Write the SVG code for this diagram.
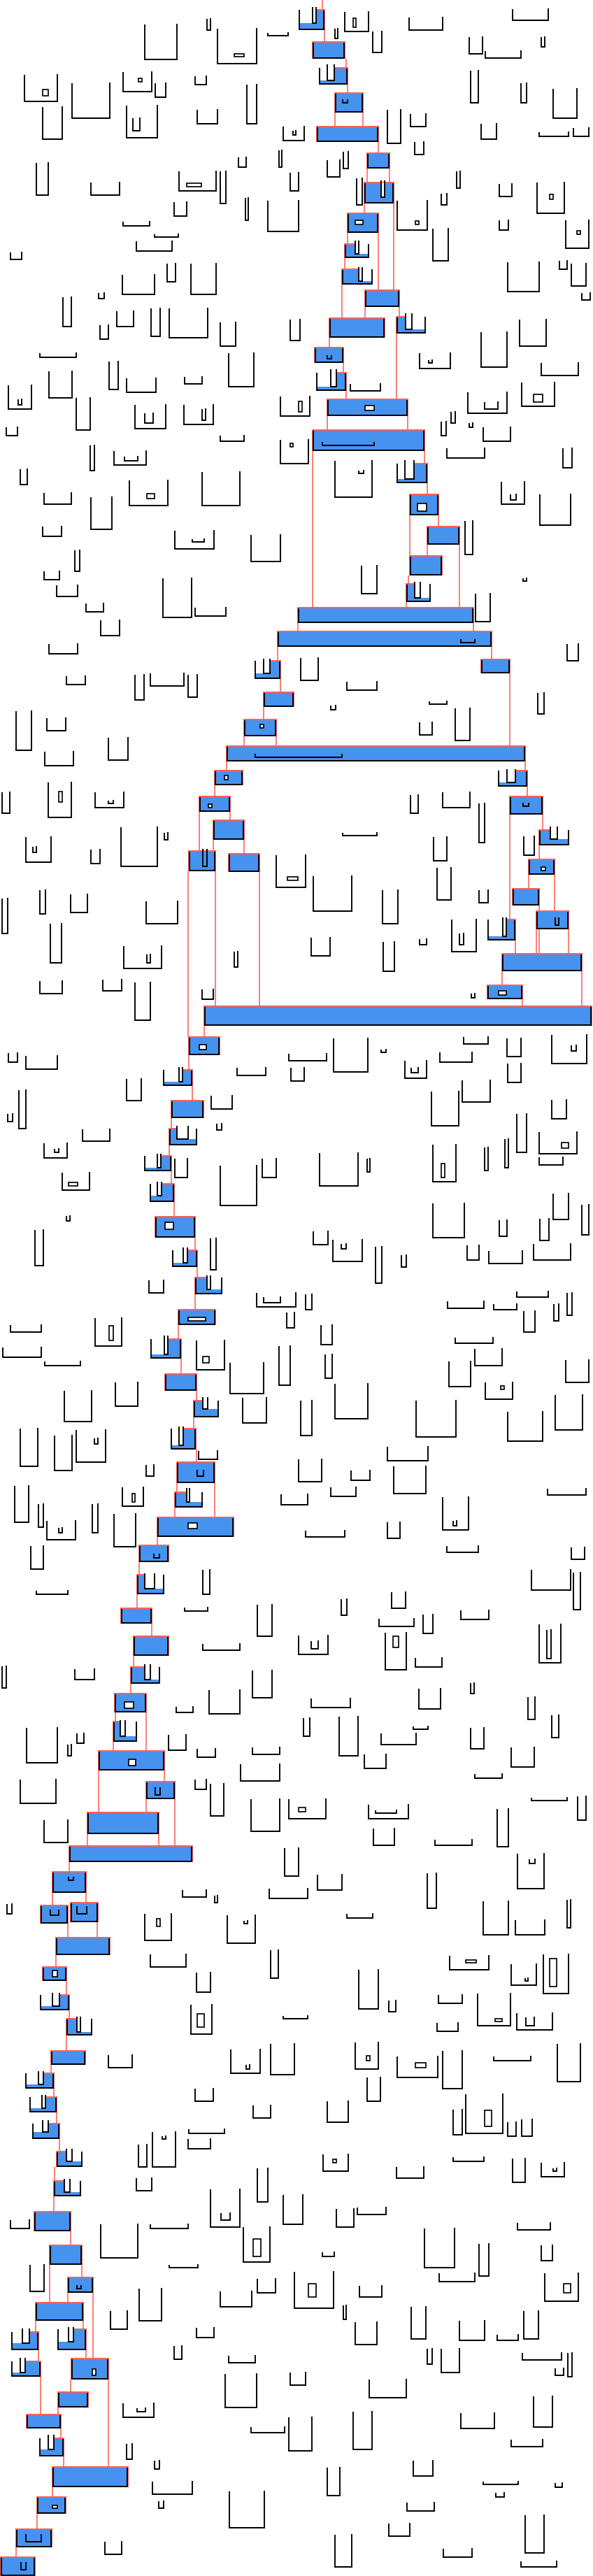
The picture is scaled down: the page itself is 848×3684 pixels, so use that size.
<svg xmlns="http://www.w3.org/2000/svg" width="848" height="3684" viewBox="0 0 848 3684">
<style>
.u path{fill:none;stroke:#000;stroke-width:1.9}
.w{fill:#fff;stroke:#000;stroke-width:1.7}
.b{fill:#4592EF}
.r{fill:none;stroke:#F8635A;stroke-width:2}
.k{fill:none;stroke:#000;stroke-width:1.9}
#connectors path{fill:none;stroke:#F8635A;stroke-width:1.6}
</style>
<rect width="848" height="3684" fill="#fff"/>
<g id="outlines" class="u">
<path d="M296 27V43H301V26"/><path d="M207 35V85H253V34"/><path d="M311 41V91H367V40"/><rect class="w" x="335" y="77" width="14" height="4"/><path d="M383 47V51H412V46"/><path d="M493 17V45H527V16"/><rect class="w" x="505" y="26" width="4" height="13"/><path d="M585 25V43H633V24"/><path d="M733 13V29H784V12"/><path d="M479 41V55H483V40"/><path d="M533 45V75H546V44"/><path d="M671 53V77H690V52"/><path d="M694 73V83H745V72"/><path d="M774 53V67H779V52"/><path d="M35 107V145H82V106"/><rect class="w" x="61" y="128" width="8" height="9"/><path d="M103 119V169H157V118"/><path d="M176 103V131H217V102"/><rect class="w" x="198" y="112" width="5" height="5"/><path d="M222 119V139H237V118"/><path d="M279 109V121H295V108"/><path d="M353 121V177H367V120"/><path d="M61 153V199H89V152"/><path d="M181 151V197H225V150"/><path d="M190 169V187H200V168"/><path d="M282 157V177H311V156"/><path d="M405 181V201H435V180"/><path d="M419 187V193H423V186"/><path d="M554 157V205H573V156"/><path d="M587 163V181H609V162"/><path d="M673 101V147H684V100"/><path d="M745 119V147H753V118"/><path d="M791 127V169H825V126"/><path d="M688 177V199H710V176"/><path d="M771 189V195H813V188"/><path d="M820 183V195H842V182"/><path d="M593 203V221H606V202"/><path d="M341 225V239H352V224"/><path d="M399 215V239H403V214"/><path d="M468 229V253H486V228"/><path d="M491 217V241H498V216"/><path d="M52 233V279H69V232"/><path d="M130 261V279H171V260"/><path d="M256 245V273H309V244"/><rect class="w" x="267" y="262" width="21" height="5"/><path d="M315 245V291H323V244"/><path d="M415 247V273H427V246"/><path d="M510 255V293H518V254"/><path d="M631 277V293H639V276"/><path d="M653 245V269H658V244"/><path d="M714 263V281H732V262"/><path d="M768 261V305H807V260"/><rect class="w" x="786" y="278" width="5" height="7"/><path d="M249 289V309H267V288"/><path d="M351 283V315H355V282"/><path d="M383 287V331H427V286"/><path d="M568 287V329H611V286"/><rect class="w" x="594" y="316" width="5" height="5"/>
<path d="M176 317V323H214V316"/><path d="M221 335V339H255V334"/><path d="M195 345V359H246V344"/><path d="M15 361V371H31V360"/><path d="M714 315V329H727V314"/><path d="M809 315V355H842V314"/><rect class="w" x="825" y="330" width="5" height="5"/><path d="M619 327V373H641V326"/><path d="M726 375V417H771V374"/><path d="M800 373V385H811V372"/><path d="M817 377V409H838V376"/><path d="M832 419V429H844V418"/><path d="M141 419V427H149V418"/><path d="M175 393V421H221V392"/><path d="M239 377V403H251V376"/><path d="M273 377V421H309V376"/><path d="M90 425V467H102V424"/><path d="M143 465V485H155V464"/><path d="M167 445V467H191V444"/><path d="M216 441V481H229V440"/><path d="M242 441V483H297V440"/><path d="M315 461V495H337V460"/><path d="M415 457V487H429V456"/><path d="M743 457V495H781V456"/><path d="M688 475V525H725V474"/><path d="M600 505V527H644V504"/><path d="M613 515V519H618V514"/><path d="M774 519V537H827V518"/><path d="M57 505V511H109V504"/><path d="M156 517V557H169V516"/><path d="M70 531V569H103V530"/><path d="M181 541V561H223V540"/><path d="M264 539V549H289V538"/><path d="M327 505V553H363V504"/><path d="M501 549V559H544V548"/><path d="M12 551V585H45V550"/><path d="M26 571V579H31V570"/><path d="M401 567V595H443V566"/><rect class="w" x="427" y="574" width="5" height="15"/><path d="M669 561V591H725V560"/><path d="M693 575V585H712V574"/><path d="M746 547V581H793V546"/><rect class="w" x="763" y="564" width="13" height="11"/><path d="M109 569V615H129V568"/><path d="M193 579V613H237V578"/><path d="M207 591V605H219V590"/><path d="M263 579V607H305V578"/><path d="M289 585V601H294V584"/><path d="M645 589V605H651V588"/>
<path d="M631 603V623H638V602"/><path d="M671 605V611H676V604"/><path d="M691 611V631H730V610"/><path d="M9 611V623H25V610"/><path d="M315 623V631H349V622"/><path d="M401 629V663H441V628"/><rect class="w" x="415" y="634" width="4" height="5"/><path d="M129 637V673H135V636"/><path d="M163 645V665H209V644"/><path d="M178 653V659H197V652"/><path d="M29 671V693H39V670"/><path d="M479 659V711H532V658"/><path d="M513 673V677H520V672"/><path d="M639 641V655H693V640"/><path d="M805 641V669H818V640"/><path d="M717 689V721H750V688"/><path d="M730 707V715H738V706"/><path d="M772 707V751H816V706"/><path d="M63 705V721H102V704"/><path d="M130 711V757H160V710"/><path d="M185 687V723H240V686"/><rect class="w" x="210" y="706" width="11" height="7"/><path d="M289 675V723H343V674"/><path d="M61 753V767H88V752"/><path d="M250 759V785H306V758"/><path d="M275 771V775H292V770"/><path d="M359 765V803H401V764"/><path d="M665 745V793H676V744"/><path d="M107 787V817H114V786"/><path d="M63 817V829H85V816"/><path d="M81 837V853H111V836"/><path d="M123 863V875H148V862"/><path d="M233 827V883H274V826"/><path d="M279 869V881H323V868"/><path d="M517 809V849H539V808"/><path d="M748 827V831H753V826"/><path d="M680 849V889H701V848"/><path d="M144 887V909H171V886"/>
<path d="M70 921V935H111V920"/><path d="M811 921V945H827V920"/><path d="M430 941V973H455V940"/><path d="M95 967V979H122V966"/><path d="M193 965V1001H206V964"/><path d="M215 963V981H263V962"/><path d="M269 965V997H282V964"/><path d="M496 975V987H539V974"/><path d="M473 1009V1015H480V1008"/><path d="M614 1003V1007H639V1002"/><path d="M769 991V1021H778V990"/><path d="M23 1017V1073H45V1016"/><path d="M67 1027V1045H94V1026"/><path d="M600 1033V1051H618V1032"/><path d="M651 1013V1059H672V1012"/><path d="M155 1055V1087H183V1054"/><path d="M64 1075V1095H105V1074"/><path d="M3 1133V1163H14V1132"/><path d="M69 1119V1169H102V1118"/><rect class="w" x="84" y="1132" width="5" height="15"/><path d="M136 1133V1155H177V1132"/><path d="M155 1145V1149H162V1144"/><path d="M587 1137V1163H598V1136"/><path d="M633 1133V1155H672V1132"/><path d="M685 1149V1205H693V1148"/><path d="M620 1197V1231H639V1196"/><path d="M749 1196V1223H764V1195"/><path d="M490 1191V1195H539V1190"/><path d="M173 1183V1239H225V1182"/><path d="M235 1191V1201H240V1190"/><path d="M37 1197V1233H73V1196"/><path d="M47 1211V1219H52V1210"/>
<path d="M130 1215V1235H143V1214"/><path d="M395 1223V1269H437V1222"/><rect class="w" x="411" y="1254" width="15" height="5"/><path d="M448 1253V1303H503V1252"/><path d="M547 1273V1321H569V1272"/><path d="M625 1241V1287H645V1240"/><path d="M685 1273V1291H698V1272"/><path d="M3 1285V1335H11V1284"/><path d="M57 1273V1307H65V1272"/><path d="M101 1279V1305H125V1278"/><path d="M209 1289V1321H254V1288"/><path d="M72 1321V1377H88V1320"/><path d="M177 1353V1385H231V1352"/><path d="M210 1365V1377H215V1364"/><path d="M57 1403V1421H89V1402"/><path d="M147 1401V1417H174V1400"/><path d="M193 1405V1459H215V1404"/><path d="M289 1415V1429H305V1414"/><path d="M335 1361V1383H340V1360"/><path d="M445 1341V1367H472V1340"/><path d="M548 1347V1389H564V1346"/><path d="M600 1343V1351H610V1342"/><path d="M646 1315V1361H681V1314"/><path d="M657 1335V1351H663V1334"/><path d="M674 1421V1427H679V1420"/><path d="M663 1483V1493H698V1482"/><path d="M545 1501V1505H552V1500"/><path d="M817 1495V1503H824V1494"/>
<path d="M12 1506V1519H25V1505"/><path d="M37 1510V1529H82V1509"/><path d="M413 1507V1517H467V1506"/><path d="M477 1485V1533H526V1484"/><path d="M579 1517V1542H610V1516"/><path d="M588 1527V1534H598V1526"/><path d="M629 1505V1519H675V1504"/><path d="M725 1485V1511H745V1484"/><path d="M789 1480V1521H839V1479"/><path d="M339 1527V1538H380V1526"/><path d="M416 1527V1546H435V1526"/><path d="M726 1521V1548H745V1520"/><path d="M181 1543V1574H202V1542"/><path d="M27 1559V1614H37V1558"/><path d="M11 1593V1604H18V1592"/><path d="M302 1567V1586H332V1566"/><path d="M617 1561V1610H656V1560"/><path d="M661 1545V1576H701V1544"/><path d="M789 1573V1600H810V1572"/><path d="M310 1607V1616H317V1606"/><path d="M118 1615V1632H157V1614"/><path d="M63 1635V1656H96V1634"/><path d="M78 1643V1648H84V1642"/><path d="M739 1593V1648H753V1592"/><path d="M771 1619V1650H825V1618"/><rect class="w" x="803" y="1634" width="10" height="8"/><path d="M771 1655V1666H805V1654"/><path d="M250 1657V1684H268V1656"/><path d="M315 1667V1724H367V1666"/><path d="M375 1657V1684H395V1656"/><path d="M457 1649V1696H512V1648"/><path d="M525 1657V1676H529V1656"/><path d="M619 1637V1690H652V1636"/><rect class="w" x="631" y="1664" width="5" height="20"/><path d="M693 1641V1674H698V1640"/><path d="M722 1629V1670H727V1628"/><path d="M89 1677V1702H128V1676"/><rect class="w" x="98" y="1691" width="13" height="5"/><path d="M95 1739V1746H100V1738"/><path d="M50 1759V1810H62V1758"/><path d="M619 1721V1770H664V1720"/><path d="M791 1707V1744H813V1706"/><path d="M832 1723V1766H842V1722"/><path d="M714 1745V1768H725V1744"/><path d="M772 1743V1774H785V1742"/><path d="M448 1761V1780H469V1760"/><path d="M476 1773V1804H518V1772"/><path d="M488 1779V1786H495V1778"/><path d="M537 1783V1835H546V1782"/><path d="M574 1795V1812H581V1794"/><path d="M301 1771V1816H309V1770"/><path d="M668 1781V1802H685V1780"/><path d="M699 1789V1807H747V1788"/><path d="M763 1779V1802H816V1778"/>
<path d="M213 1831V1849H234V1830"/><path d="M367 1849V1869H423V1848"/><path d="M377 1855V1863H401V1854"/><path d="M437 1851V1873H446V1850"/><path d="M640 1861V1871H692V1860"/><path d="M706 1865V1873H739V1864"/><path d="M739 1847V1855H784V1846"/><path d="M792 1865V1889H799V1864"/><path d="M811 1849V1881H818V1848"/><path d="M749 1875V1905H765V1874"/><path d="M410 1877V1899H421V1876"/><path d="M459 1895V1923H475V1894"/><path d="M15 1895V1905H59V1894"/><path d="M136 1885V1925H174V1884"/><rect class="w" x="156" y="1896" width="6" height="21"/><path d="M4 1927V1941H59V1926"/><path d="M64 1947V1953H115V1946"/><path d="M281 1917V1959H321V1916"/><rect class="w" x="290" y="1940" width="9" height="9"/><path d="M329 1949V1993H377V1948"/><path d="M399 1925V1981H415V1924"/><path d="M465 1937V1971H475V1936"/><path d="M651 1913V1921H705V1912"/><path d="M679 1929V1953H718V1928"/><path d="M642 1947V1983H673V1946"/><path d="M809 1945V1977H842V1944"/><path d="M694 1977V2001H733V1976"/><rect class="w" x="716" y="1982" width="5" height="5"/><path d="M165 1977V2011H197V1976"/><path d="M92 1989V2033H131V1988"/><path d="M347 1999V2035H381V1998"/><path d="M430 2003V2053H446V2002"/><path d="M479 1979V2029H526V1978"/><path d="M595 2003V2055H652V2002"/><path d="M726 2019V2061H776V2018"/><path d="M794 1995V2045H833V1994"/><path d="M29 2043V2097H54V2042"/><path d="M78 2053V2103H103V2052"/><path d="M109 2045V2091H151V2044"/><path d="M135 2057V2065H140V2056"/><path d="M284 2075V2087H311V2074"/><path d="M554 2069V2089H612V2068"/><path d="M209 2095V2111H220V2094"/><path d="M427 2087V2119H460V2086"/><path d="M502 2103V2117H529V2102"/><path d="M21 2125V2177H41V2124"/><path d="M175 2127V2154H205V2126"/><rect class="w" x="189" y="2136" width="4" height="12"/><path d="M473 2127V2140H509V2126"/><path d="M563 2097V2136H609V2096"/>
<path d="M55 2151V2184H62V2150"/><path d="M67 2175V2202H108V2174"/><path d="M84 2185V2192H89V2184"/><path d="M132 2151V2192H140V2150"/><path d="M163 2165V2212H194V2164"/><path d="M44 2211V2244H62V2210"/><path d="M402 2137V2152H440V2136"/><path d="M783 2129V2138H838V2128"/><path d="M633 2141V2188H670V2140"/><path d="M648 2175V2182H653V2174"/><path d="M554 2177V2200H572V2176"/><path d="M437 2189V2198H493V2188"/><path d="M639 2211V2220H684V2210"/><path d="M817 2213V2230H836V2212"/><path d="M52 2275V2280H97V2274"/><path d="M290 2245V2280H300V2244"/><path d="M264 2299V2304H297V2298"/><path d="M368 2295V2340H389V2294"/><path d="M488 2287V2310H496V2286"/><path d="M560 2277V2300H580V2276"/><path d="M542 2315V2326H592V2314"/><path d="M605 2309V2336H619V2308"/><path d="M659 2303V2316H699V2302"/><path d="M760 2245V2274H816V2244"/><path d="M820 2249V2302H830V2248"/><path d="M771 2323V2378H802V2322"/><path d="M782 2331V2372H788V2330"/><path d="M290 2351V2360H343V2350"/><path d="M427 2339V2366H469V2338"/><path d="M445 2347V2358H455V2346"/><path d="M551 2335V2388H581V2334"/><rect class="w" x="562" y="2340" width="8" height="16"/><path d="M594 2371V2384H632V2370"/><path d="M3 2383V2414H9V2382"/><path d="M107 2387V2402H135V2386"/><path d="M361 2389V2428H389V2388"/><path d="M299 2417V2451H343V2416"/><path d="M445 2429V2442H501V2428"/><path d="M599 2415V2444H630V2414"/><path d="M673 2407V2422H678V2406"/><path d="M755 2427V2459H765V2426"/>
<path d="M252 2441V2449H276V2440"/><path d="M789 2453V2485H799V2452"/><path d="M434 2457V2483H443V2456"/><path d="M485 2455V2511H512V2454"/><path d="M545 2479V2495H595V2478"/><path d="M591 2469V2473H612V2468"/><path d="M673 2471V2501H692V2470"/><path d="M731 2499V2527H764V2498"/><path d="M38 2471V2521H82V2470"/><path d="M110 2479V2493H120V2478"/><path d="M97 2495V2511H102V2494"/><path d="M241 2481V2503H266V2480"/><path d="M282 2501V2513H308V2500"/><path d="M361 2499V2509H400V2498"/><path d="M344 2523V2547H400V2522"/><path d="M521 2509V2529H552V2508"/><path d="M679 2537V2543H718V2536"/><path d="M29 2545V2579H80V2544"/><path d="M279 2545V2559H295V2544"/><path d="M301 2551V2597H320V2550"/><path d="M359 2573V2619H400V2572"/><path d="M413 2573V2601H466V2572"/><rect class="w" x="427" y="2585" width="10" height="6"/><path d="M527 2581V2601H584V2580"/><path d="M537 2589V2593H567V2588"/><path d="M760 2571V2575H811V2570"/><path d="M826 2569V2603H838V2568"/><path d="M63 2603V2635H97V2602"/><path d="M534 2615V2639H564V2614"/><path d="M622 2631V2639H675V2630"/><path d="M711 2587V2641H727V2586"/><path d="M407 2643V2683H427V2642"/><path d="M454 2681V2703H489V2680"/><path d="M740 2651V2701H778V2650"/><path d="M757 2659V2665H765V2658"/><path d="M611 2679V2729H624V2678"/><path d="M261 2703V2713H295V2702"/><path d="M307 2711V2721H311V2710"/><path d="M385 2701V2715H440V2700"/><path d="M10 2723V2737H17V2722"/><path d="M496 2737V2743H533V2736"/><path d="M207 2737V2775H245V2736"/><rect class="w" x="224" y="2744" width="5" height="11"/><path d="M325 2739V2779H365V2738"/><path d="M349 2747V2751H354V2746"/><path d="M691 2719V2767H727V2718"/><path d="M811 2717V2757H816V2716"/><path d="M737 2746V2767H779V2745"/>
<path d="M215 2795V2813H266V2794"/><path d="M387 2789V2829H398V2788"/><path d="M281 2821V2849H301V2820"/><path d="M513 2817V2873H541V2816"/><path d="M556 2861V2877H566V2860"/><path d="M643 2797V2817H699V2796"/><rect class="w" x="666" y="2803" width="15" height="4"/><path d="M731 2809V2839H767V2808"/><path d="M751 2829V2833H755V2828"/><path d="M777 2795V2851H813V2794"/><rect class="w" x="786" y="2801" width="10" height="40"/><path d="M627 2853V2865H661V2852"/><path d="M683 2851V2897H730V2850"/><rect class="w" x="708" y="2887" width="10" height="4"/><path d="M739 2879V2903H790V2878"/><path d="M752 2885V2897H764V2884"/><path d="M273 2867V2909H303V2866"/><rect class="w" x="282" y="2880" width="10" height="19"/><path d="M405 2883V2887H440V2882"/><path d="M625 2893V2905H655V2892"/><path d="M155 2939V2957H189V2938"/><path d="M330 2931V2965H372V2930"/><path d="M352 2953V2959H357V2952"/><path d="M387 2923V2967H421V2922"/><path d="M508 2921V2959H541V2920"/><rect class="w" x="524" y="2940" width="5" height="7"/><path d="M568 2941V2971H626V2940"/><rect class="w" x="594" y="2950" width="15" height="7"/><path d="M633 2933V2987H661V2932"/><path d="M706 2941V2947H759V2940"/><path d="M797 2923V2977H830V2922"/><path d="M525 2971V3005H544V2970"/><path d="M279 2987V3005H305V2986"/><path d="M362 3011V3029H387V3010"/><path d="M468 3005V3035H498V3004"/><path d="M648 3017V3053H661V3016"/><path d="M666 2995V3051H719V2994"/><rect class="w" x="693" y="3018" width="10" height="23"/><path d="M726 3035V3055H738V3034"/><path d="M746 3031V3055H761V3030"/><path d="M218 3049V3099H251V3048"/><path d="M232 3055V3059H237V3054"/><path d="M198 3067V3099H210V3066"/><path d="M270 3045V3051H321V3044"/><path d="M269 3059V3073H301V3058"/>
<path d="M462 3081V3105H498V3080"/><rect class="w" x="476" y="3088" width="5" height="5"/><path d="M567 3099V3115H606V3098"/><path d="M648 3085V3091H692V3084"/><path d="M733 3087V3121H751V3086"/><path d="M774 3093V3113H807V3092"/><path d="M791 3101V3105H796V3100"/><path d="M195 3115V3133H217V3114"/><path d="M368 3101V3149H383V3100"/><path d="M301 3131V3185H343V3130"/><path d="M316 3165V3175H329V3164"/><path d="M405 3139V3181H433V3138"/><path d="M481 3159V3185H506V3158"/><path d="M511 3157V3167H552V3156"/><path d="M15 3175V3187H42V3174"/><path d="M144 3181V3229H197V3180"/><path d="M215 3181V3187H269V3180"/><path d="M348 3185V3235H386V3184"/><rect class="w" x="362" y="3202" width="11" height="25"/><path d="M461 3221V3227H478V3220"/><path d="M607 3187V3243H650V3186"/><path d="M685 3209V3255H699V3208"/><path d="M740 3179V3189H787V3178"/><path d="M774 3211V3233H790V3210"/><path d="M242 3239V3243H283V3238"/><path d="M43 3239V3277H63V3238"/><path d="M628 3251V3263H679V3250"/><path d="M779 3251V3291H827V3250"/><rect class="w" x="806" y="3266" width="10" height="13"/><path d="M368 3259V3279H394V3258"/><path d="M315 3277V3299H360V3276"/><path d="M421 3249V3301H477V3248"/><rect class="w" x="441" y="3266" width="11" height="19"/><path d="M514 3269V3285H546V3268"/><path d="M199 3273V3319H231V3272"/><path d="M158 3305V3331H182V3304"/><path d="M491 3297V3317H495V3296"/><path d="M508 3321V3353H539V3320"/><path d="M588 3299V3345H609V3298"/><path d="M657 3319V3347H693V3318"/><path d="M711 3339V3347H741V3338"/><path d="M749 3305V3345H770V3304"/><path d="M281 3329V3343H306V3328"/><path d="M249 3355V3374H260V3354"/><path d="M327 3369V3379H365V3368"/><path d="M611 3359V3381H618V3358"/><path d="M631 3359V3393H657V3358"/><path d="M747 3365V3375H803V3364"/><path d="M794 3387V3397H806V3386"/><path d="M812 3365V3399H818V3364"/>
<path d="M322 3395V3443H367V3394"/><path d="M415 3393V3411H437V3392"/><path d="M528 3403V3429H581V3402"/><path d="M659 3451V3473H707V3450"/><path d="M763 3427V3471H790V3426"/><path d="M176 3437V3457H220V3436"/><path d="M196 3444V3449H208V3443"/><path d="M359 3471V3479H407V3470"/><path d="M413 3457V3505H446V3456"/><path d="M505 3449V3503H532V3448"/><path d="M731 3489V3499H776V3488"/><path d="M181 3495V3517H189V3494"/><path d="M221 3519V3531H228V3518"/><path d="M218 3549V3567H275V3548"/><path d="M468 3529V3569H486V3528"/><path d="M591 3519V3541H619V3518"/><path d="M691 3549V3553H741V3548"/><path d="M794 3551V3557H804V3550"/><path d="M709 3565V3571H721V3564"/><path d="M227 3577V3587H234V3576"/><path d="M328 3563V3615H378V3562"/><path d="M582 3579V3591H621V3578"/><path d="M556 3609V3627H586V3608"/><path d="M751 3597V3651H778V3596"/><path d="M150 3635V3653H174V3634"/><path d="M479 3625V3671H503V3624"/><path d="M634 3645V3657H675V3644"/><path d="M745 3663V3671H796V3662"/>
</g>
<g id="connectors">
<path d="M461 0V14"/><path d="M464 43V60"/><path d="M495 84V97"/><path d="M497 121V133"/><path d="M479 161V181"/><path d="M519 161V181"/><path d="M541 203V219"/><path d="M525 241V261"/><path d="M557 241V261"/><path d="M521 291V305"/><path d="M563 291V415"/><path d="M497 333V349"/><path d="M541 333V415"/><path d="M493 369V385"/><path d="M489 407V455"/><path d="M522 439V455"/><path d="M571 439V453"/><path d="M471 483V497"/><path d="M491 519V533"/><path d="M495 559V571"/><path d="M567 477V571"/><path d="M468 595V615"/><path d="M583 595V615"/><path d="M447 645V869"/><path d="M607 645V663"/><path d="M611 691V707"/><path d="M586 737V795"/><path d="M627 737V753"/><path d="M611 779V795"/><path d="M657 779V869"/><path d="M584 823V835"/><path d="M581 861V869"/><path d="M426 891V903"/><path d="M677 891V903"/><path d="M397 925V945"/><path d="M703 925V943"/><path d="M401 971V990"/><path d="M729 963V1067"/><path d="M377 1011V1029"/><path d="M349 1053V1067"/><path d="M395 1053V1067"/><path d="M324 1089V1102"/><path d="M751 1089V1102"/><path d="M307 1123V1139"/><path d="M754 1125V1139"/><path d="M329 1161V1173"/><path d="M285 1161V1217"/><path d="M776 1165V1187"/><path d="M729 1165V1315"/><path d="M305 1201V1217"/><path d="M349 1201V1221"/><path d="M771 1209V1229"/><path d="M756 1251V1271"/><path d="M793 1251V1303"/><path d="M771 1295V1364"/><path d="M767 1329V1364"/><path d="M813 1329V1364"/><path d="M737 1345V1364"/><path d="M718 1389V1409"/><path d="M832 1389V1439"/><path d="M747 1429V1439"/><path d="M269 1246V1483"/><path d="M308 1246V1439"/><path d="M371 1247V1439"/><path d="M292 1467V1483"/><path d="M270 1509V1530"/><path d="M275 1553V1574"/><path d="M245 1599V1614"/><path d="M242 1638V1653"/><path d="M245 1675V1693"/><path d="M249 1719V1740"/><path d="M279 1770V1788"/><path d="M282 1812V1827"/><path d="M279 1851V1873"/><path d="M255 1895V1915"/><path d="M259 1943V1965"/><path d="M281 1989V2003"/><path d="M277 2027V2043"/><path d="M281 2073V2091"/><path d="M253 2121V2134"/><path d="M307 2121V2170"/><path d="M250 2156V2170"/><path d="M225 2198V2210"/><path d="M199 2234V2252"/><path d="M196 2280V2300"/><path d="M217 2322V2340"/><path d="M191 2368V2384"/><path d="M187 2408V2422"/><path d="M165 2449V2462"/><path d="M209 2449V2504"/><path d="M162 2491V2504"/><path d="M141 2532V2592"/><path d="M235 2532V2548"/><path d="M209 2573V2592"/><path d="M250 2573V2640"/><path d="M125 2623V2640"/><path d="M227 2623V2640"/><path d="M99 2663V2677"/><path d="M75 2707V2725"/><path d="M123 2707V2721"/><path d="M97 2751V2771"/><path d="M139 2749V2771"/><path d="M80 2796V2813"/><path d="M95 2833V2853"/><path d="M99 2875V2887"/><path d="M95 2911V2933"/><path d="M73 2953V2965"/><path d="M77 2987V2999"/><path d="M81 3021V3037"/><path d="M85 3059V3077"/><path d="M78 3099V3119"/><path d="M77 3141V3163"/><path d="M101 3191V3211"/><path d="M71 3239V3293"/><path d="M117 3239V3257"/><path d="M97 3279V3293"/><path d="M133 3279V3373"/><path d="M51 3319V3335"/><path d="M119 3319V3331"/><path d="M55 3361V3377"/><path d="M123 3361V3373"/><path d="M101 3403V3421"/><path d="M155 3403V3528"/><path d="M58 3399V3453"/><path d="M83 3443V3453"/><path d="M87 3473V3487"/><path d="M91 3513V3528"/><path d="M75 3557V3571"/><path d="M53 3595V3617"/><path d="M23 3643V3657"/>
</g>
<g id="nA"><path class="b" d="M452 14H464V43H428V33H452Z"/><path class="r" d="M452 14H464V43"/><path class="k" d="M428 14V42H463V15M447 10V33H452V10"/></g>
<g id="nB"><rect class="b" x="447" y="60" width="46" height="24"/><path class="r" d="M447 84V60H493V84"/><path class="k" d="M448 61V83H492V61"/></g>
<g id="nC"><path class="b" d="M478 97H497V121H457V115H478Z"/><path class="r" d="M478 97H497V121"/><path class="k" d="M457 97V120H496V98M468 92V115H478V92"/></g>
<g id="nD"><rect class="b" x="479" y="133" width="40" height="28"/><path class="r" d="M479 161V133H519V161"/><path class="k" d="M480 134V160H518V134M490 142V147H497V142"/></g>
<g id="nE"><rect class="b" x="453" y="181" width="88" height="22"/><path class="r" d="M453 203V181H541V203"/><path class="k" d="M454 182V202H540V182"/></g>
<g id="nF"><rect class="b" x="525" y="219" width="32" height="22"/><path class="r" d="M525 241V219H557V241"/><path class="k" d="M526 220V240H556V220"/></g>
<g id="nG"><rect class="b" x="521" y="261" width="42" height="30"/><path class="r" d="M521 291V261H563V291"/><rect x="545" y="261" width="5" height="21" fill="#fff"/><path class="k" d="M522 262V290H562V262M545 258V282H550V258"/></g>
<g id="nH"><rect class="b" x="497" y="305" width="44" height="28"/><path class="r" d="M497 333V305H541V333"/><path class="k" d="M498 306V332H540V306"/><rect class="w" x="508" y="315" width="11" height="6"/></g>
<g id="nI"><path class="b" d="M493 349H508V363H527V369H493Z"/><path class="r" d="M508 349H493V369"/><path class="k" d="M494 350V368H527V349M508 344V363H513V344"/></g>
<g id="nK"><path class="b" d="M489 385H513V402H532V407H489Z"/><path class="r" d="M513 385H489V407"/><path class="k" d="M490 386V406H532V385M513 382V402H518V382"/></g>
<g id="nJ"><rect class="b" x="522" y="415" width="49" height="24"/><path class="r" d="M522 439V415H571V439"/><path class="k" d="M523 416V438H570V416"/></g>
<g id="nL"><rect class="b" x="471" y="455" width="79" height="28"/><path class="r" d="M471 483V455H550V483"/><path class="k" d="M472 456V482H549V456"/></g>
<g id="nM"><path class="b" d="M567 453H580V471H608V477H567Z"/><path class="r" d="M580 453H567V477"/><path class="k" d="M568 454V476H608V453M580 448V471H589V448"/></g>
<g id="nN"><rect class="b" x="450" y="497" width="41" height="22"/><path class="r" d="M450 519V497H491V519"/><path class="k" d="M451 498V518H490V498M468 508V513H474V508"/></g>
<g id="nO"><path class="b" d="M481 533H495V559H453V553H481Z"/><path class="r" d="M481 533H495V559"/><path class="k" d="M453 533V558H494V534M473 528V553H481V528"/></g>
<g id="nP"><rect class="b" x="468" y="571" width="115" height="24"/><path class="r" d="M468 595V571H583V595"/><path class="k" d="M469 572V594H582V572"/><rect class="w" x="522" y="580" width="13" height="7"/></g>
<g id="nQ"><rect class="b" x="447" y="615" width="160" height="30"/><path class="r" d="M447 645V615H607V645"/><path class="k" d="M448 616V644H606V616M461 632V637H535V632"/></g>
<g id="nR"><path class="b" d="M592 663H611V691H568V685H592Z"/><path class="r" d="M592 663H611V691"/><path class="k" d="M568 663V690H610V664M579 658V685H592V658"/></g>
<g id="nS"><rect class="b" x="586" y="707" width="41" height="30"/><path class="r" d="M586 737V707H627V737"/><path class="k" d="M587 708V736H626V708"/><rect class="w" x="597" y="720" width="13" height="11"/></g>
<g id="nT"><rect class="b" x="611" y="753" width="46" height="26"/><path class="r" d="M611 779V753H657V779"/><path class="k" d="M612 754V778H656V754"/></g>
<g id="nU"><rect class="b" x="586" y="795" width="46" height="28"/><path class="r" d="M586 823V795H632V823"/><path class="k" d="M587 796V822H631V796"/></g>
<g id="nU2"><path class="b" d="M581 835H593V855H615V861H581Z"/><path class="r" d="M593 835H581V861"/><path class="k" d="M582 836V860H615V835M593 832V855H601V832"/></g>
<g id="nV"><rect class="b" x="426" y="869" width="251" height="22"/><path class="r" d="M426 891V869H677V891"/><path class="k" d="M427 870V890H676V870"/></g>
<g id="nW"><rect class="b" x="397" y="903" width="306" height="22"/><path class="r" d="M397 925V903H703V925"/><path class="k" d="M398 904V924H702V904M659 914V919H679V914"/></g>
<g id="nX"><path class="b" d="M386 945H401V971H365V963H386Z"/><path class="r" d="M386 945H401V971"/><path class="k" d="M365 945V970H400V946M377 942V963H386V942"/></g>
<g id="nY"><rect class="b" x="688" y="943" width="41" height="20"/><path class="r" d="M688 963V943H729V963"/><path class="k" d="M689 944V962H728V944"/></g>
<g id="nZ"><rect class="b" x="377" y="990" width="43" height="21"/><path class="r" d="M377 1011V990H420V1011"/><path class="k" d="M378 991V1010H419V991"/></g>
<g id="nAA"><rect class="b" x="349" y="1029" width="46" height="24"/><path class="r" d="M349 1053V1029H395V1053"/><path class="k" d="M350 1030V1052H394V1030"/><rect class="w" x="372" y="1036" width="5" height="5"/></g>
<g id="nBB"><rect class="b" x="324" y="1067" width="427" height="22"/><path class="r" d="M324 1089V1067H751V1089"/><path class="k" d="M325 1068V1088H750V1068M365 1078V1083H489V1078"/></g>
<g id="nCC"><rect class="b" x="307" y="1102" width="40" height="21"/><path class="r" d="M307 1123V1102H347V1123"/><path class="k" d="M308 1103V1122H346V1103"/><rect class="w" x="321" y="1109" width="5" height="6"/></g>
<g id="nDD"><path class="b" d="M737 1102H754V1125H713V1119H737Z"/><path class="r" d="M737 1102H754V1125"/><path class="k" d="M713 1102V1124H753V1103M725 1100V1119H737V1100"/></g>
<g id="nEE"><rect class="b" x="285" y="1139" width="44" height="22"/><path class="r" d="M285 1161V1139H329V1161"/><path class="k" d="M286 1140V1160H328V1140"/><rect class="w" x="298" y="1150" width="5" height="5"/></g>
<g id="nFF"><rect class="b" x="729" y="1139" width="47" height="26"/><path class="r" d="M729 1165V1139H776V1165"/><path class="k" d="M730 1140V1164H775V1140M748 1148V1153H756V1148"/></g>
<g id="nGG"><rect class="b" x="305" y="1173" width="44" height="28"/><path class="r" d="M305 1201V1173H349V1201"/><path class="k" d="M306 1174V1200H348V1174"/></g>
<g id="nHH"><path class="b" d="M771 1187H787V1200H813V1209H771Z"/><path class="r" d="M787 1187H771V1209"/><path class="k" d="M772 1188V1208H813V1187M787 1182V1200H797V1182"/></g>
<g id="nII"><rect class="b" x="270" y="1217" width="38" height="29"/><path class="r" d="M270 1246V1217H308V1246"/><path class="k" d="M271 1218V1245H307V1218M290 1214V1239H296V1214"/></g>
<g id="nJJ"><rect class="b" x="327" y="1221" width="44" height="26"/><path class="r" d="M327 1247V1221H371V1247"/><path class="k" d="M328 1222V1246H370V1222"/></g>
<g id="nNN"><rect class="b" x="756" y="1229" width="37" height="22"/><path class="r" d="M756 1251V1229H793V1251"/><path class="k" d="M757 1230V1250H792V1230"/><rect class="w" x="774" y="1240" width="6" height="5"/></g>
<g id="nOO"><rect class="b" x="733" y="1271" width="38" height="24"/><path class="r" d="M733 1295V1271H771V1295"/><path class="k" d="M734 1272V1294H770V1272"/></g>
<g id="nPP"><rect class="b" x="767" y="1303" width="46" height="26"/><path class="r" d="M767 1329V1303H813V1329"/><path class="k" d="M768 1304V1328H812V1304M794 1312V1323H799V1312"/></g>
<g id="nMM"><path class="b" d="M724 1315H737V1345H698V1339H724Z"/><path class="r" d="M724 1315H737V1345"/><path class="k" d="M698 1315V1344H736V1316M719 1312V1339H724V1312"/></g>
<g id="nQQ"><rect class="b" x="718" y="1364" width="114" height="25"/><path class="r" d="M718 1389V1364H832V1389"/><path class="k" d="M719 1365V1388H831V1365"/></g>
<g id="nRR"><rect class="b" x="697" y="1409" width="50" height="20"/><path class="r" d="M697 1429V1409H747V1429"/><path class="k" d="M698 1410V1428H746V1410"/><rect class="w" x="713" y="1417" width="11" height="6"/></g>
<g id="nLL"><rect class="b" x="292" y="1439" width="554" height="28"/><path class="r" d="M292 1467V1439H846V1467"/><path class="k" d="M293 1440V1466H845V1440"/></g>
<g id="nKK"><rect class="b" x="270" y="1483" width="44" height="26"/><path class="r" d="M270 1509V1483H314V1509"/><path class="k" d="M271 1484V1508H313V1484"/><rect class="w" x="285" y="1494" width="10" height="7"/></g>
<g id="nSS"><path class="b" d="M261 1530H275V1553H234V1547H261Z"/><path class="r" d="M261 1530H275V1553"/><path class="k" d="M234 1530V1552H274V1531M256 1526V1547H261V1526"/></g>
<g id="nTT"><rect class="b" x="245" y="1574" width="46" height="25"/><path class="r" d="M245 1599V1574H291V1599"/><path class="k" d="M246 1575V1598H290V1575"/></g>
<g id="nUU"><path class="b" d="M242 1614H253V1629H281V1638H242Z"/><path class="r" d="M253 1614H242V1638"/><path class="k" d="M243 1615V1637H281V1614M253 1610V1629H269V1610"/></g>
<g id="nVV"><path class="b" d="M230 1653H245V1675H207V1670H230Z"/><path class="r" d="M230 1653H245V1675"/><path class="k" d="M207 1653V1674H244V1654M225 1650V1670H230V1650"/></g>
<g id="nWW"><path class="b" d="M231 1693H249V1719H215V1710H231Z"/><path class="r" d="M231 1693H249V1719"/><path class="k" d="M215 1693V1718H248V1694M225 1690V1710H231V1690"/></g>
<g id="nXX"><rect class="b" x="222" y="1740" width="57" height="30"/><path class="r" d="M222 1770V1740H279V1770"/><path class="k" d="M223 1741V1769H278V1741"/><rect class="w" x="236" y="1748" width="12" height="10"/></g>
<g id="nYY"><path class="b" d="M268 1788H282V1812H247V1806H268Z"/><path class="r" d="M268 1788H282V1812"/><path class="k" d="M247 1788V1811H281V1789M262 1784V1806H268V1784"/></g>
<g id="nZZ"><path class="b" d="M279 1827H296V1844H317V1851H279Z"/><path class="r" d="M296 1827H279V1851"/><path class="k" d="M280 1828V1850H317V1827M296 1824V1844H301V1824"/></g>
<g id="nA2"><rect class="b" x="255" y="1873" width="53" height="22"/><path class="r" d="M255 1895V1873H308V1895"/><path class="k" d="M256 1874V1894H307V1874"/><rect class="w" x="269" y="1884" width="25" height="5"/></g>
<g id="nB2"><path class="b" d="M240 1915H259V1943H216V1937H240Z"/><path class="r" d="M240 1915H259V1943"/><path class="k" d="M216 1915V1942H258V1916M235 1910V1937H240V1910"/></g>
<g id="nC2"><rect class="b" x="236" y="1965" width="45" height="24"/><path class="r" d="M236 1989V1965H281V1989"/><path class="k" d="M237 1966V1988H280V1966"/></g>
<g id="nD2"><path class="b" d="M277 2003H290V2015H312V2027H277Z"/><path class="r" d="M290 2003H277V2027"/><path class="k" d="M278 2004V2026H312V2003M290 1998V2015H297V1998"/></g>
<g id="nE2"><path class="b" d="M262 2043H280V2073H245V2067H262Z"/><path class="r" d="M262 2043H280V2073"/><path class="k" d="M245 2043V2072H279V2044M256 2040V2067H262V2040"/></g>
<g id="nF2"><rect class="b" x="253" y="2091" width="54" height="30"/><path class="r" d="M253 2121V2091H307V2121"/><path class="k" d="M254 2092V2120H306V2092M282 2102V2111H291V2102"/></g>
<g id="nG2"><path class="b" d="M250 2134H267V2148H289V2156H250Z"/><path class="r" d="M267 2134H250V2156"/><path class="k" d="M251 2135V2155H289V2134M267 2128V2148H271V2128"/></g>
<g id="nH2"><rect class="b" x="225" y="2170" width="109" height="28"/><path class="r" d="M225 2198V2170H334V2198"/><path class="k" d="M226 2171V2197H333V2171"/><rect class="w" x="269" y="2178" width="13" height="8"/></g>
<g id="nI2"><rect class="b" x="199" y="2210" width="42" height="24"/><path class="r" d="M199 2234V2210H241V2234"/><path class="k" d="M200 2211V2233H240V2211M220 2222V2228H228V2222"/></g>
<g id="nJ2"><path class="b" d="M196 2252H207V2272H234V2280H196Z"/><path class="r" d="M207 2252H196V2280"/><path class="k" d="M197 2253V2279H234V2252M207 2250V2272H221V2250"/></g>
<g id="nK2"><rect class="b" x="173" y="2300" width="44" height="22"/><path class="r" d="M173 2322V2300H217V2322"/><path class="k" d="M174 2301V2321H216V2301"/></g>
<g id="nL2"><rect class="b" x="191" y="2340" width="50" height="28"/><path class="r" d="M191 2368V2340H241V2368"/><path class="k" d="M192 2341V2367H240V2341"/></g>
<g id="nM2"><path class="b" d="M187 2384H207V2402H228V2408H187Z"/><path class="r" d="M207 2384H187V2408"/><path class="k" d="M188 2385V2407H228V2384M207 2380V2402H215V2380"/></g>
<g id="nN2"><rect class="b" x="164" y="2422" width="45" height="27"/><path class="r" d="M164 2449V2422H209V2449"/><path class="k" d="M165 2423V2448H208V2423"/><rect class="w" x="178" y="2434" width="13" height="9"/></g>
<g id="nO2"><path class="b" d="M162 2462H172V2483H195V2491H162Z"/><path class="r" d="M172 2462H162V2491"/><path class="k" d="M163 2463V2490H195V2462M172 2460V2483H179V2460"/></g>
<g id="nP2"><rect class="b" x="141" y="2504" width="94" height="28"/><path class="r" d="M141 2532V2504H235V2532"/><path class="k" d="M142 2505V2531H234V2505"/><rect class="w" x="184" y="2516" width="10" height="9"/></g>
<g id="nQ2"><rect class="b" x="209" y="2548" width="41" height="25"/><path class="r" d="M209 2573V2548H250V2573"/><path class="k" d="M210 2549V2572H249V2549M222 2556V2567H229V2556"/></g>
<g id="nR2"><rect class="b" x="125" y="2592" width="102" height="31"/><path class="r" d="M125 2623V2592H227V2623"/><path class="k" d="M126 2593V2622H226V2593"/></g>
<g id="nS2"><rect class="b" x="99" y="2640" width="176" height="23"/><path class="r" d="M99 2663V2640H275V2663"/><path class="k" d="M100 2641V2662H274V2641"/></g>
<g id="nT2"><rect class="b" x="75" y="2677" width="48" height="30"/><path class="r" d="M75 2707V2677H123V2707"/><path class="k" d="M76 2678V2706H122V2678M98 2684V2689H105V2684"/></g>
<g id="nU2a"><rect class="b" x="58" y="2725" width="39" height="26"/><path class="r" d="M58 2751V2725H97V2751"/><path class="k" d="M59 2726V2750H96V2726M72 2731V2739H84V2731"/></g>
<g id="nV2"><rect class="b" x="101" y="2721" width="39" height="28"/><path class="r" d="M101 2749V2721H140V2749"/><path class="k" d="M102 2722V2748H139V2722M110 2726V2737H124V2726"/></g>
<g id="nW2"><rect class="b" x="80" y="2771" width="77" height="25"/><path class="r" d="M80 2796V2771H157V2796"/><path class="k" d="M81 2772V2795H156V2772"/></g>
<g id="nX2"><rect class="b" x="61" y="2813" width="34" height="20"/><path class="r" d="M61 2833V2813H95V2833"/><path class="k" d="M62 2814V2832H94V2814"/><rect class="w" x="75" y="2818" width="7" height="9"/></g>
<g id="nY2"><path class="b" d="M85 2853H99V2875H58V2869H85Z"/><path class="r" d="M85 2853H99V2875"/><path class="k" d="M58 2853V2874H98V2854M75 2850V2869H85V2850"/></g>
<g id="nZ2"><path class="b" d="M95 2887H110V2906H131V2911H95Z"/><path class="r" d="M110 2887H95V2911"/><path class="k" d="M96 2888V2910H131V2887M110 2884V2906H115V2884"/></g>
<g id="nA3"><rect class="b" x="73" y="2933" width="49" height="20"/><path class="r" d="M73 2953V2933H122V2953"/><path class="k" d="M74 2934V2952H121V2934"/></g>
<g id="nB3"><path class="b" d="M62 2965H77V2987H37V2981H62Z"/><path class="r" d="M62 2965H77V2987"/><path class="k" d="M37 2965V2986H76V2966M55 2962V2981H62V2962"/></g>
<g id="nC3"><path class="b" d="M65 2999H81V3021H43V3015H65Z"/><path class="r" d="M65 2999H81V3021"/><path class="k" d="M43 2999V3020H80V3000M60 2996V3015H65V2996"/></g>
<g id="nD3"><path class="b" d="M69 3037H85V3059H47V3049H69Z"/><path class="r" d="M69 3037H85V3059"/><path class="k" d="M47 3037V3058H84V3038M61 3032V3049H69V3032"/></g>
<g id="nE3"><path class="b" d="M81 3077H95V3091H117V3099H81Z"/><path class="r" d="M95 3077H81V3099"/><path class="k" d="M82 3078V3098H117V3077M95 3073V3091H103V3073"/></g>
<g id="nF3"><path class="b" d="M77 3119H92V3135H115V3141H77Z"/><path class="r" d="M92 3119H77V3141"/><path class="k" d="M78 3120V3140H115V3119M92 3116V3135H100V3116"/></g>
<g id="nG3"><rect class="b" x="49" y="3163" width="52" height="28"/><path class="r" d="M49 3191V3163H101V3191"/><path class="k" d="M50 3164V3190H100V3164"/></g>
<g id="nH3"><rect class="b" x="71" y="3211" width="46" height="28"/><path class="r" d="M71 3239V3211H117V3239"/><path class="k" d="M72 3212V3238H116V3212"/></g>
<g id="nI3"><rect class="b" x="97" y="3257" width="36" height="22"/><path class="r" d="M97 3279V3257H133V3279"/><path class="k" d="M98 3258V3278H132V3258M110 3268V3273H116V3268"/></g>
<g id="nJ3"><rect class="b" x="51" y="3293" width="68" height="26"/><path class="r" d="M51 3319V3293H119V3319"/><path class="k" d="M52 3294V3318H118V3294"/></g>
<g id="nL3"><path class="b" d="M42 3335H55V3361H17V3351H42Z"/><path class="r" d="M42 3335H55V3361"/><path class="k" d="M17 3335V3360H54V3336M32 3330V3351H42V3330"/></g>
<g id="nM3"><path class="b" d="M105 3331H123V3361H83V3349H105Z"/><path class="r" d="M105 3331H123V3361"/><path class="k" d="M83 3331V3360H122V3332M98 3328V3349H105V3328"/></g>
<g id="nK3"><rect class="b" x="102" y="3373" width="53" height="30"/><path class="r" d="M102 3403V3373H155V3403"/><path class="k" d="M103 3374V3402H154V3374"/><rect class="w" x="132" y="3388" width="5" height="9"/></g>
<g id="nN3"><path class="b" d="M36 3377H58V3399H17V3393H36Z"/><path class="r" d="M36 3377H58V3399"/><path class="k" d="M17 3377V3398H57V3378M29 3372V3393H36V3372"/></g>
<g id="nO3"><rect class="b" x="83" y="3421" width="43" height="22"/><path class="r" d="M83 3443V3421H126V3443"/><path class="k" d="M84 3422V3442H125V3422"/></g>
<g id="nP3"><rect class="b" x="38" y="3453" width="49" height="20"/><path class="r" d="M38 3473V3453H87V3473"/><path class="k" d="M39 3454V3472H86V3454"/></g>
<g id="nQ3"><path class="b" d="M77 3487H91V3513H57V3503H77Z"/><path class="r" d="M77 3487H91V3513"/><path class="k" d="M57 3487V3512H90V3488M69 3482V3503H77V3482"/></g>
<g id="nR3"><rect class="b" x="75" y="3528" width="108" height="29"/><path class="r" d="M75 3557V3528H183V3557"/><path class="k" d="M76 3529V3556H182V3529"/></g>
<g id="nS3"><rect class="b" x="53" y="3571" width="41" height="24"/><path class="r" d="M53 3595V3571H94V3595"/><path class="k" d="M54 3572V3594H93V3572"/><rect class="w" x="75" y="3583" width="7" height="4"/></g>
<g id="nT3"><rect class="b" x="23" y="3617" width="51" height="26"/><path class="r" d="M23 3643V3617H74V3643"/><path class="k" d="M24 3618V3642H73V3618M37 3624V3635H59V3624"/></g>
<g id="nV3"><rect class="b" x="1" y="3657" width="49" height="27"/><path class="r" d="M1 3684V3657H50V3684"/><path class="k" d="M2 3658V3683H49V3658M30 3664V3675H37V3664"/></g>
</svg>
